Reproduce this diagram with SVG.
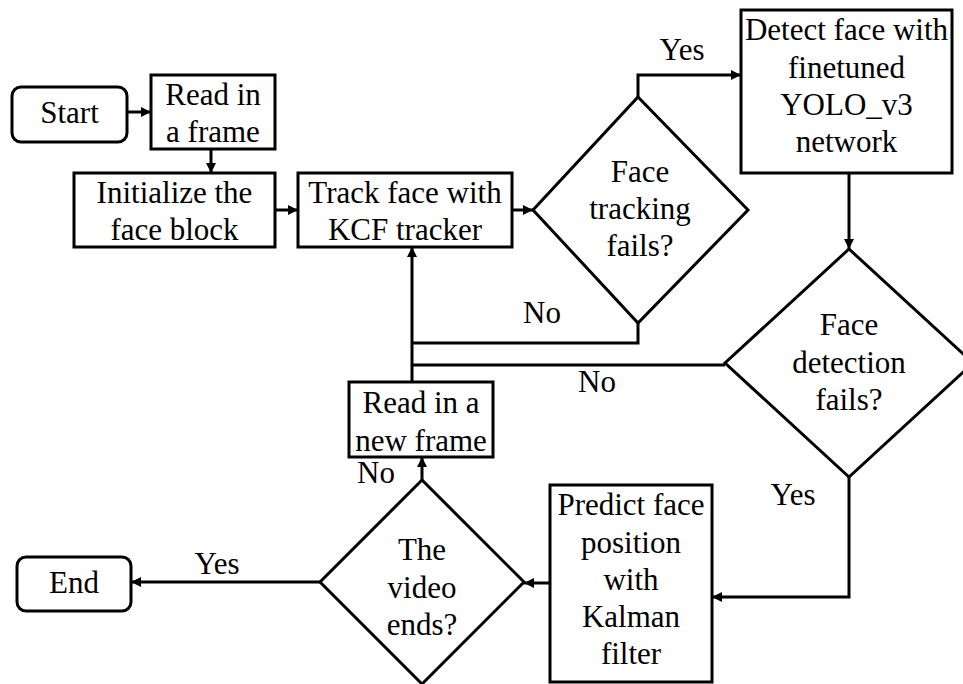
<svg xmlns="http://www.w3.org/2000/svg" width="963" height="684" viewBox="0 0 963 684" font-family="'Liberation Serif', 'Times New Roman', serif" font-size="31">
<defs>
<marker id="ah" viewBox="0 0 10 10" refX="10" refY="5" markerWidth="10" markerHeight="10" markerUnits="userSpaceOnUse" orient="auto">
<path d="M0,0 L10,5 L0,10 z" fill="#000"/>
</marker>
</defs>
<style>
.s{fill:#fff;stroke:#000;stroke-width:3}
.c{fill:none;stroke:#000;stroke-width:3}
.a{marker-end:url(#ah)}
text{font-family:'Liberation Serif','Times New Roman',serif;font-size:31px;fill:#000;text-anchor:middle}
</style>
<rect width="963" height="684" fill="#fff"/>
<g id="connectors">
<path class="c a" d="M127,112 H151"/>
<path class="c a" d="M211,149 V173"/>
<path class="c a" d="M275,210 H298"/>
<path class="c a" d="M512,210 H533"/>
<path class="c a" d="M638,97 V75 H741"/>
<path class="c" d="M638,323 V343 H412"/>
<path class="c a" d="M412,382 V247"/>
<path class="c a" d="M849,173 V249"/>
<path class="c" d="M725,365 H412"/>
<path class="c a" d="M849,477 V597 H712"/>
<path class="c a" d="M550,583 H524"/>
<path class="c a" d="M422,480 V457"/>
<path class="c a" d="M320,582 H131"/>
<text x="682" y="60">Yes</text>
<text x="542" y="323">No</text>
<text x="597" y="392">No</text>
<text x="793" y="505">Yes</text>
<text x="376" y="483">No</text>
<text x="217" y="574">Yes</text>
</g>
<g id="start">
<rect class="s" x="12" y="87" width="115" height="55" rx="9"/>
<text x="69.5" y="123">Start</text>
</g>
<g id="read-frame">
<rect class="s" x="151" y="75" width="124" height="74"/>
<text x="213" y="105">Read in</text>
<text x="213" y="142">a frame</text>
</g>
<g id="init">
<rect class="s" x="74" y="173" width="201" height="74"/>
<text x="174.5" y="203">Initialize the</text>
<text x="174.5" y="240">face block</text>
</g>
<g id="track">
<rect class="s" x="298" y="173" width="214" height="74"/>
<text x="405" y="203">Track face with</text>
<text x="405" y="240">KCF tracker</text>
</g>
<g id="track-fail">
<polygon class="s" points="638,97 748,210 638,323 533,210"/>
<text x="640" y="182">Face</text>
<text x="640" y="219">tracking</text>
<text x="640" y="256">fails?</text>
</g>
<g id="detect">
<rect class="s" x="741" y="10" width="211" height="163"/>
<text x="846.5" y="40">Detect face with</text>
<text x="846.5" y="78">finetuned</text>
<text x="846.5" y="115">YOLO_v3</text>
<text x="846.5" y="152">network</text>
</g>
<g id="detect-fail">
<polygon class="s" points="849,249 973,363 849,477 725,363"/>
<text x="849" y="335">Face</text>
<text x="849" y="373">detection</text>
<text x="849" y="410">fails?</text>
</g>
<g id="read-new">
<rect class="s" x="349" y="382" width="144" height="75"/>
<text x="421" y="413">Read in a</text>
<text x="421" y="451">new frame</text>
</g>
<g id="predict">
<rect class="s" x="550" y="485" width="162" height="197"/>
<text x="631" y="515">Predict face</text>
<text x="631" y="553">position</text>
<text x="631" y="590">with</text>
<text x="631" y="627">Kalman</text>
<text x="631" y="664">filter</text>
</g>
<g id="video-ends">
<polygon class="s" points="422,480 524,582 422,684 320,582"/>
<text x="422" y="560">The</text>
<text x="422" y="598">video</text>
<text x="422" y="635">ends?</text>
</g>
<g id="end">
<rect class="s" x="17" y="557" width="114" height="54" rx="9"/>
<text x="74" y="593">End</text>
</g>
</svg>
